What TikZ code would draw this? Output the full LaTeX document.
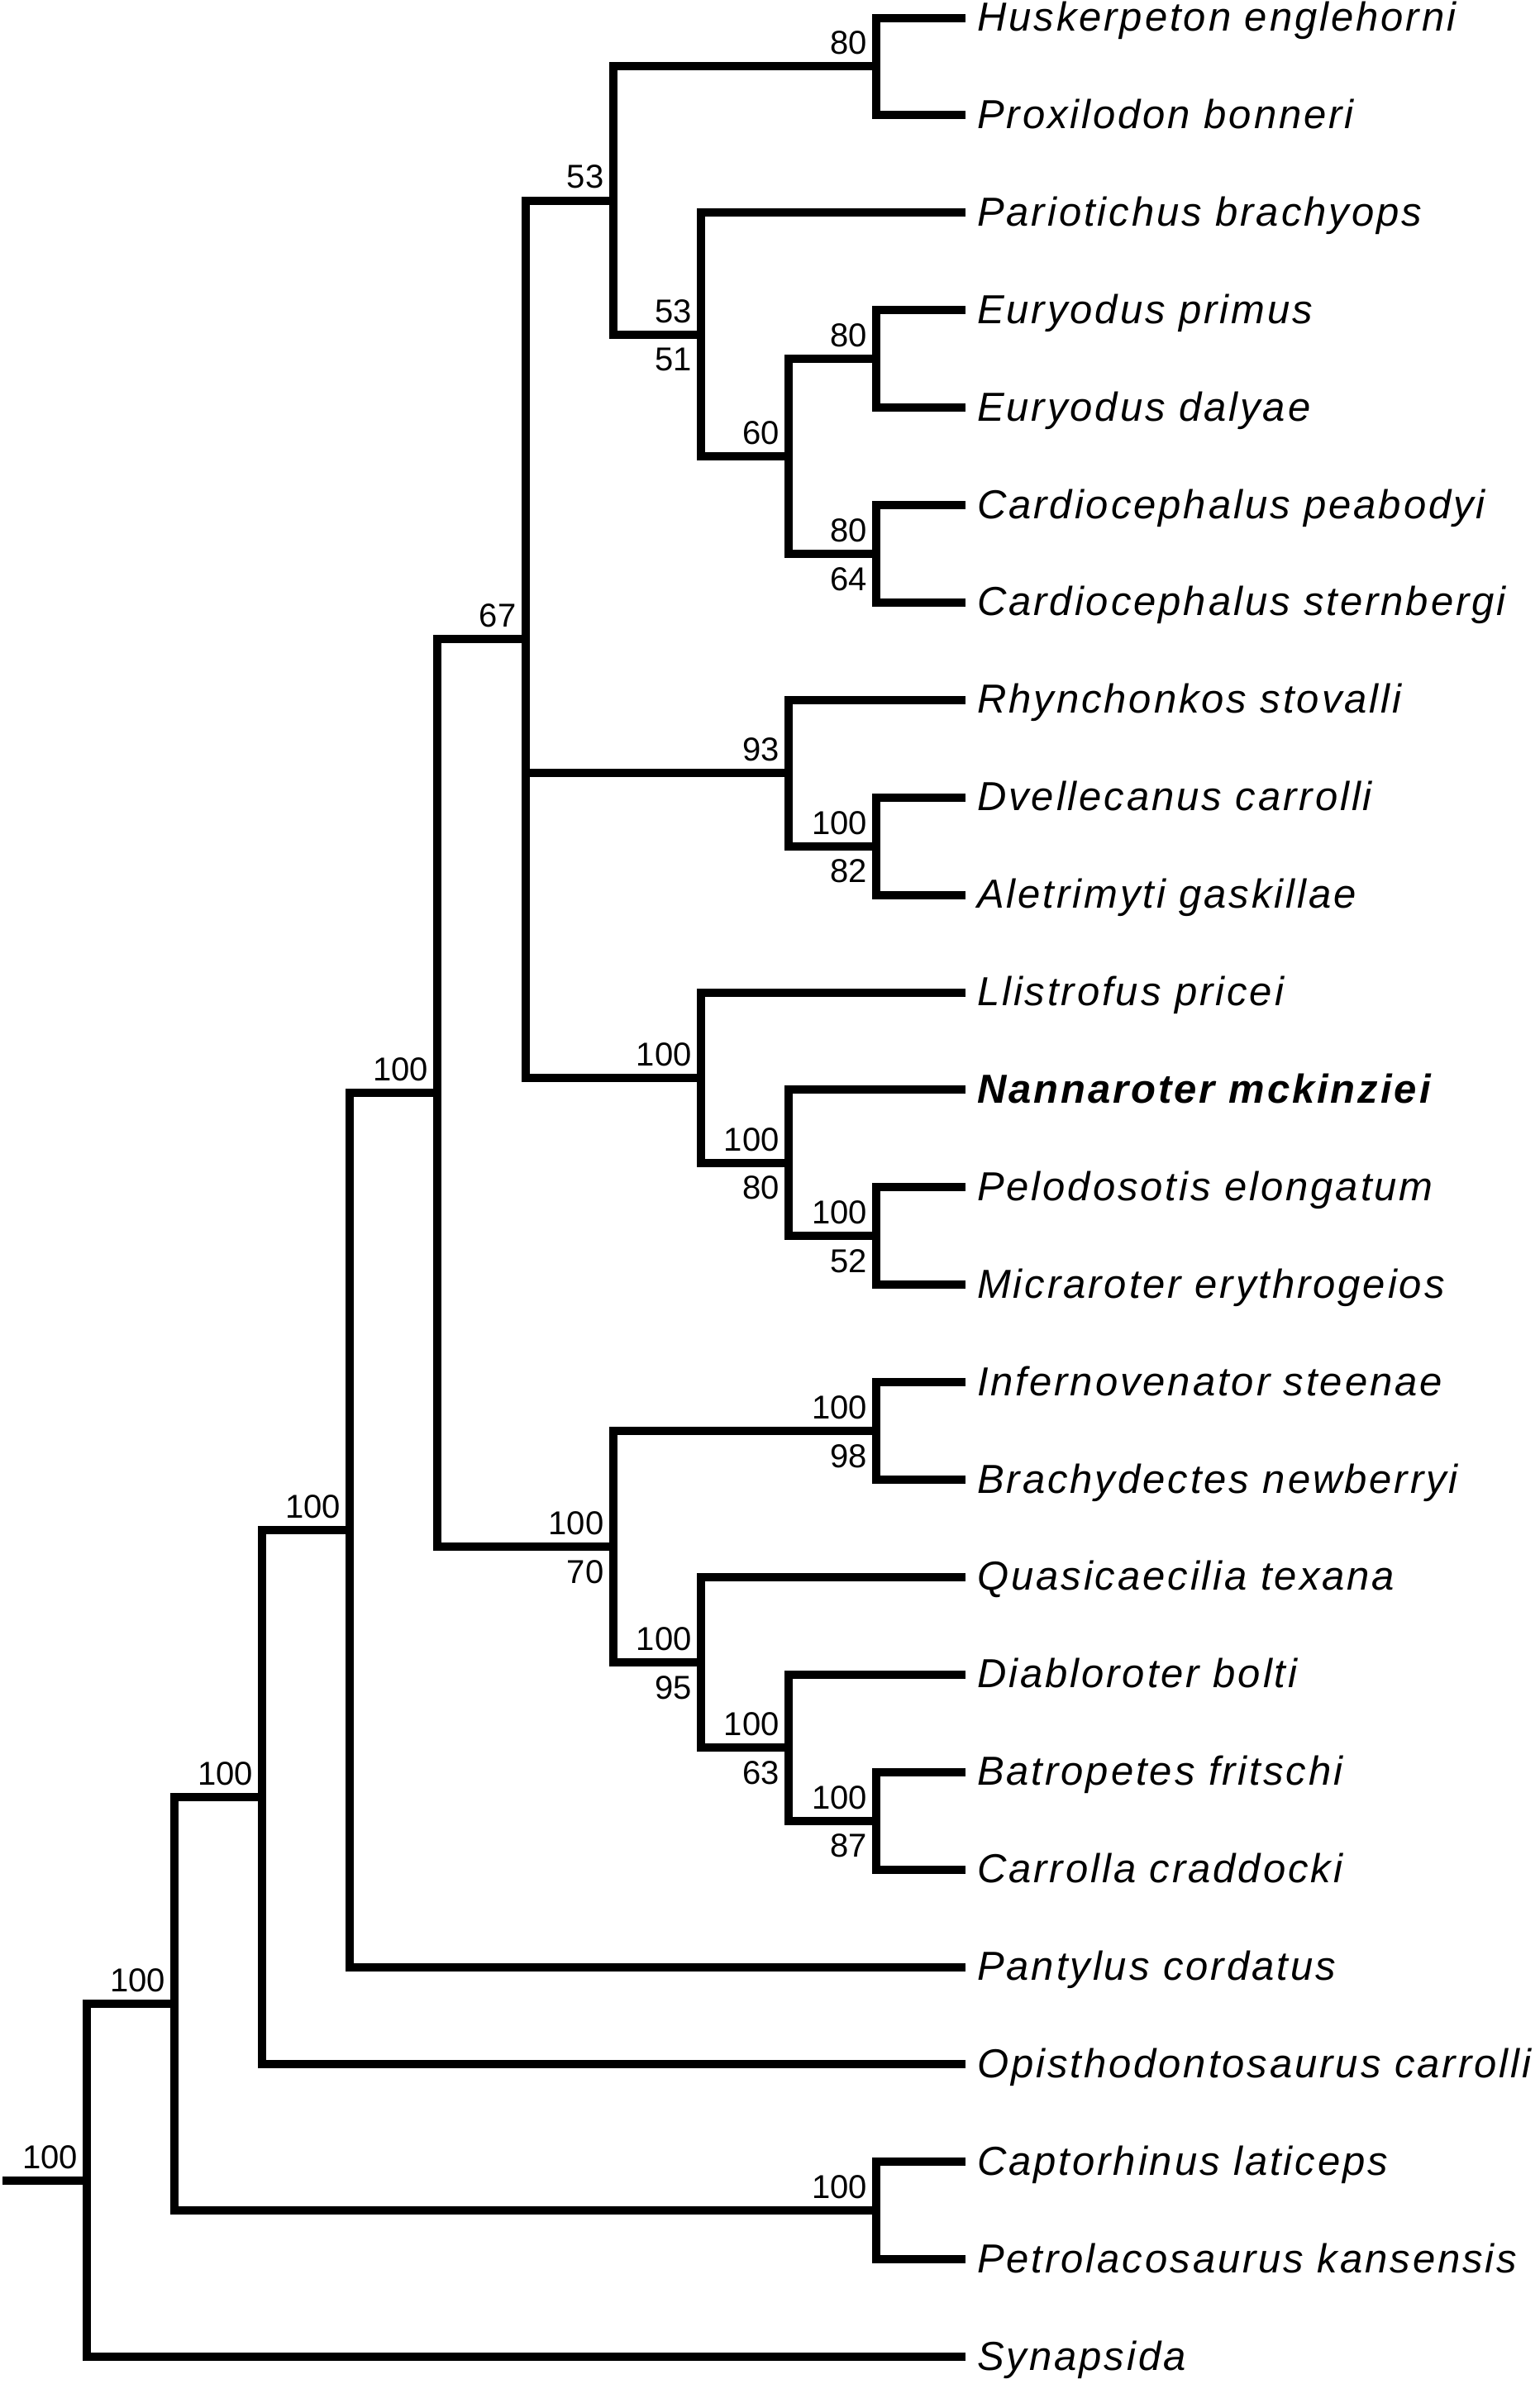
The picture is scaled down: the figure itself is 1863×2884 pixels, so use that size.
\documentclass[tikz,border=0pt]{standalone}
\usepackage{fontspec}
\setmainfont{Liberation Sans}
\newfontfamily\spfont{Liberation Sans}[LetterSpace=6.0]
\newfontfamily\numfont{Liberation Sans}
\begin{document}
\begin{tikzpicture}[x=1pt,y=-1pt,
  branch/.style={line width=10pt,line cap=butt,line join=miter,black},
  taxon/.style={anchor=base west,inner sep=0pt,font=\spfont\itshape\fontsize{49}{58}\selectfont},
  taxonb/.style={taxon,font=\spfont\bfseries\itshape\fontsize{49}{58}\selectfont},
  supA/.style={anchor=south east,inner sep=0pt,font=\numfont\fontsize{40}{48}\selectfont},
  supB/.style={anchor=north east,inner sep=0pt,font=\numfont\fontsize{40}{48}\selectfont}]
\useasboundingbox (0,0) rectangle (1863,2884);
% levels
\def\LA{105}\def\LB{211.1}\def\LC{317.2}\def\LD{423.3}\def\LE{529.4}
\def\LF{635.5}\def\LG{741.6}\def\LH{847.7}\def\LI{953.8}\def\LJ{1060}
\def\TX{1168}
% leaves (tip ends)
\coordinate (l1) at (\TX,21.5);
\coordinate (l2) at (\TX,139.4);
\coordinate (l3) at (\TX,257.3);
\coordinate (l4) at (\TX,375.2);
\coordinate (l5) at (\TX,493.1);
\coordinate (l6) at (\TX,611.0);
\coordinate (l7) at (\TX,728.9);
\coordinate (l8) at (\TX,846.8);
\coordinate (l9) at (\TX,964.7);
\coordinate (l10) at (\TX,1082.6);
\coordinate (l11) at (\TX,1200.5);
\coordinate (l12) at (\TX,1318.4);
\coordinate (l13) at (\TX,1436.3);
\coordinate (l14) at (\TX,1554.2);
\coordinate (l15) at (\TX,1672.1);
\coordinate (l16) at (\TX,1790.0);
\coordinate (l17) at (\TX,1907.9);
\coordinate (l18) at (\TX,2025.8);
\coordinate (l19) at (\TX,2143.7);
\coordinate (l20) at (\TX,2261.6);
\coordinate (l21) at (\TX,2379.5);
\coordinate (l22) at (\TX,2497.4);
\coordinate (l23) at (\TX,2615.3);
\coordinate (l24) at (\TX,2733.2);
\coordinate (l25) at (\TX,2851.1);
% internal nodes
\coordinate (nHP) at (\LJ,80.45);
\coordinate (nEur) at (\LJ,434.15);
\coordinate (nCard) at (\LJ,669.95);
\coordinate (nI) at (\LI,552.05);
\coordinate (nH) at (\LH,404.68);
\coordinate (nG) at (\LG,242.56);
\coordinate (nN) at (\LJ,1023.65);
\coordinate (nM) at (\LI,935.23);
\coordinate (nQ) at (\LJ,1495.25);
\coordinate (nP) at (\LI,1406.83);
\coordinate (nO) at (\LH,1303.66);
\coordinate (nE) at (\LF,773.11);
\coordinate (nS) at (\LJ,1731.05);
\coordinate (nV) at (\LJ,2202.65);
\coordinate (nU) at (\LI,2114.23);
\coordinate (nT) at (\LH,2011.06);
\coordinate (nF) at (\LG,1871.06);
\coordinate (nD) at (\LE,1322.08);
\coordinate (nC) at (\LD,1850.79);
\coordinate (nB) at (\LC,2174.1);
\coordinate (nW) at (\LJ,2674.25);
\coordinate (nA) at (\LB,2424.18);
\coordinate (nR) at (\LA,2637.64);
\coordinate (root) at (3,2637.64);
% branches
\draw[branch] (nHP) |- (l1); \draw[branch] (nHP) |- (l2);
\draw[branch] (nEur) |- (l4); \draw[branch] (nEur) |- (l5);
\draw[branch] (nCard) |- (l6); \draw[branch] (nCard) |- (l7);
\draw[branch] (nI) |- (nEur); \draw[branch] (nI) |- (nCard);
\draw[branch] (nH) |- (l3); \draw[branch] (nH) |- (nI);
\draw[branch] (nG) |- (nHP); \draw[branch] (nG) |- (nH);
\draw[branch] (nN) |- (l9); \draw[branch] (nN) |- (l10);
\draw[branch] (nM) |- (l8); \draw[branch] (nM) |- (nN);
\draw[branch] (nQ) |- (l13); \draw[branch] (nQ) |- (l14);
\draw[branch] (nP) |- (l12); \draw[branch] (nP) |- (nQ);
\draw[branch] (nO) |- (l11); \draw[branch] (nO) |- (nP);
\draw[branch] (nE) |- (nG); \draw[branch] (nE) |- (nM); \draw[branch] (nE) |- (nO);
\draw[branch] (nS) |- (l15); \draw[branch] (nS) |- (l16);
\draw[branch] (nV) |- (l19); \draw[branch] (nV) |- (l20);
\draw[branch] (nU) |- (l18); \draw[branch] (nU) |- (nV);
\draw[branch] (nT) |- (l17); \draw[branch] (nT) |- (nU);
\draw[branch] (nF) |- (nS); \draw[branch] (nF) |- (nT);
\draw[branch] (nD) |- (nE); \draw[branch] (nD) |- (nF);
\draw[branch] (nC) |- (nD); \draw[branch] (nC) |- (l21);
\draw[branch] (nB) |- (nC); \draw[branch] (nB) |- (l22);
\draw[branch] (nW) |- (l23); \draw[branch] (nW) |- (l24);
\draw[branch] (nA) |- (nB); \draw[branch] (nA) |- (nW);
\draw[branch] (nR) |- (nA); \draw[branch] (nR) |- (l25);
\draw[branch] (root) -- (nR);
% taxon labels
\newcommand{\txn}[3][taxon]{\node[#1] (t#2) at ([xshift=14pt,yshift=-16pt]l#2) {#3};}
\txn{1}{Huskerpeton englehorni}
\txn{2}{Proxilodon bonneri}
\txn{3}{Pariotichus brachyops}
\txn{4}{Euryodus primus}
\txn{5}{Euryodus dalyae}
\txn{6}{Cardiocephalus peabodyi}
\txn{7}{Cardiocephalus sternbergi}
\txn{8}{Rhynchonkos stovalli}
\txn{9}{Dvellecanus carrolli}
\txn{10}{Aletrimyti gaskillae}
\txn{11}{Llistrofus pricei}
\txn[taxonb]{12}{Nannaroter mckinziei}
\txn{13}{Pelodosotis elongatum}
\txn{14}{Micraroter erythrogeios}
\txn{15}{Infernovenator steenae}
\txn{16}{Brachydectes newberryi}
\txn{17}{Quasicaecilia texana}
\txn{18}{Diabloroter bolti}
\txn{19}{Batropetes fritschi}
\txn{20}{Carrolla craddocki}
\txn{21}{Pantylus cordatus}
\txn{22}{Opisthodontosaurus carrolli}
\txn{23}{Captorhinus laticeps}
\txn{24}{Petrolacosaurus kansensis}
\txn{25}{Synapsida}
% support values
\newcommand{\supa}[2]{\node[supA] (a#1) at ([xshift=-11pt,yshift=14pt]#1) {#2};}
\newcommand{\supb}[2]{\node[supB] (b#1) at ([xshift=-11pt,yshift=-16pt]#1) {#2};}
\supa{nHP}{80}
\supa{nG}{53}
\supa{nH}{53}\supb{nH}{51}
\supa{nI}{60}
\supa{nEur}{80}
\supa{nCard}{80}\supb{nCard}{64}
\supa{nE}{67}
\supa{nM}{93}
\supa{nN}{100}\supb{nN}{82}
\supa{nO}{100}
\supa{nP}{100}\supb{nP}{80}
\supa{nQ}{100}\supb{nQ}{52}
\supa{nD}{100}
\supa{nS}{100}\supb{nS}{98}
\supa{nF}{100}\supb{nF}{70}
\supa{nT}{100}\supb{nT}{95}
\supa{nU}{100}\supb{nU}{63}
\supa{nV}{100}\supb{nV}{87}
\supa{nC}{100}
\supa{nB}{100}
\supa{nW}{100}
\supa{nA}{100}
\supa{nR}{100}
\end{tikzpicture}
\end{document}
